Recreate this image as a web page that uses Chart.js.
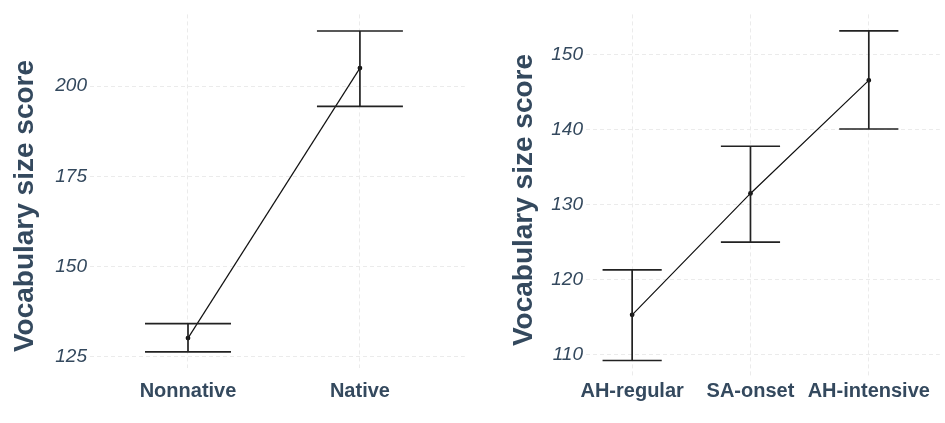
<!DOCTYPE html>
<html>
<head>
<meta charset="utf-8">
<script src="https://cdn.jsdelivr.net/npm/chart.js@4"></script>
<style>
  html, body { margin: 0; padding: 0; background: #fff; }
  .panel { position: absolute; top: 0; height: 423px; }
  #left { left: 0; width: 470px; }
  #right { left: 480px; width: 465px; }
</style>
</head>
<body>
<div class="panel" id="left"><canvas id="nativeChart"></canvas></div>
<div class="panel" id="right"><canvas id="groupChart"></canvas></div>
<script>
'use strict';

// Panel 1: native vs nonnative
var nativeLabels = ['Nonnative', 'Native'];
var nativeMeans = [130.1, 205.0];
var nativeUpper = [134.1, 215.3];
var nativeLower = [126.3, 194.4];

// Panel 2: learning context groups
var groupLabels = ['AH-regular', 'SA-onset', 'AH-intensive'];
var groupMeans = [115.3, 131.5, 146.6];
var groupUpper = [121.3, 137.8, 153.2];
var groupLower = [109.2, 125.0, 140.1];

var yTitle = 'Vocabulary size score';

var TEXT = '#34495e';
var FONT = "'Liberation Sans', Arial, Helvetica, sans-serif";
var CAP = 0.25;

function meanPoints(means) {
  return means.map(function (v, i) { return { x: i + 1, y: v }; });
}

// whiskers + caps as one gapped line
function errorPoints(upper, lower) {
  var pts = [];
  upper.forEach(function (hi, i) {
    var lo = lower[i], x = i + 1;
    pts.push({ x: x - CAP, y: hi }, { x: x + CAP, y: hi }, { x: x, y: null });
    pts.push({ x: x, y: hi }, { x: x, y: lo }, { x: x, y: null });
    pts.push({ x: x - CAP, y: lo }, { x: x + CAP, y: lo }, { x: x, y: null });
  });
  return pts;
}

// y axis title, drawn a little below the panel centre like the original
var sideTitle = {
  id: 'sideTitle',
  afterDraw: function (chart, args, opts) {
    var ctx = chart.ctx;
    ctx.save();
    ctx.translate(opts.x, opts.y);
    ctx.rotate(-Math.PI / 2);
    ctx.textAlign = 'center';
    ctx.textBaseline = 'middle';
    ctx.fillStyle = TEXT;
    ctx.font = 'bold 28px ' + FONT;
    ctx.fillText(opts.text, 0, 0);
    ctx.restore();
  }
};

function makeChart(id, labels, means, upper, lower, cfg) {
  var grid = {
    color: '#ebebeb',
    lineWidth: 1,
    drawTicks: false
  };
  return new Chart(document.getElementById(id), {
    type: 'line',
    plugins: [sideTitle],
    data: {
      datasets: [
        {
          data: errorPoints(upper, lower),
          borderColor: '#222',
          borderWidth: 1.7,
          pointRadius: 0,
          spanGaps: false,
          tension: 0
        },
        {
          data: meanPoints(means),
          borderColor: '#111',
          backgroundColor: '#111',
          borderWidth: 1.2,
          pointRadius: 1.8,
          tension: 0
        }
      ]
    },
    options: {
      responsive: true,
      maintainAspectRatio: false,
      animation: false,
      events: [],
      layout: { padding: cfg.padding },
      plugins: {
        legend: { display: false },
        tooltip: { enabled: false },
        sideTitle: { text: yTitle, x: cfg.titleX, y: cfg.titleY }
      },
      scales: {
        x: {
          type: 'linear',
          min: cfg.xMin,
          max: cfg.xMax,
          border: { display: false, dash: [4, 3] },
          grid: grid,
          afterFit: function (s) { s.height = cfg.xHeight; },
          afterBuildTicks: function (s) {
            s.ticks = labels.map(function (l, i) { return { value: i + 1 }; });
          },
          ticks: {
            autoSkip: false,
            maxRotation: 0,
            padding: cfg.xPad,
            color: TEXT,
            font: { family: FONT, size: 20, weight: 'bold' },
            callback: function (v) { return labels[Math.round(v) - 1]; }
          }
        },
        y: {
          min: cfg.yMin,
          max: cfg.yMax,
          border: { display: false, dash: [4, 3] },
          grid: grid,
          afterFit: function (s) { s.width = cfg.yWidth; },
          ticks: {
            stepSize: cfg.yStep,
            includeBounds: false,
            padding: 3,
            color: TEXT,
            font: { family: FONT, size: 19, style: 'italic' }
          }
        }
      }
    }
  });
}

makeChart('nativeChart', nativeLabels, nativeMeans, nativeUpper, nativeLower, {
  xMin: 0.43, xMax: 2.61,
  yMin: 121.8, yMax: 219.9, yStep: 25,
  yWidth: 90, xHeight: 55, xPad: 11,
  titleX: 25.5, titleY: 206,
  padding: { left: 0, right: 5, top: 3, bottom: 0 }
});

makeChart('groupChart', groupLabels, groupMeans, groupUpper, groupLower, {
  xMin: 0.61, xMax: 3.6,
  yMin: 107.0, yMax: 155.4, yStep: 10,
  yWidth: 106, xHeight: 46, xPad: 2,
  titleX: 44, titleY: 200,
  padding: { left: 0, right: 3, top: 12, bottom: 0 }
});
</script>
</body>
</html>
